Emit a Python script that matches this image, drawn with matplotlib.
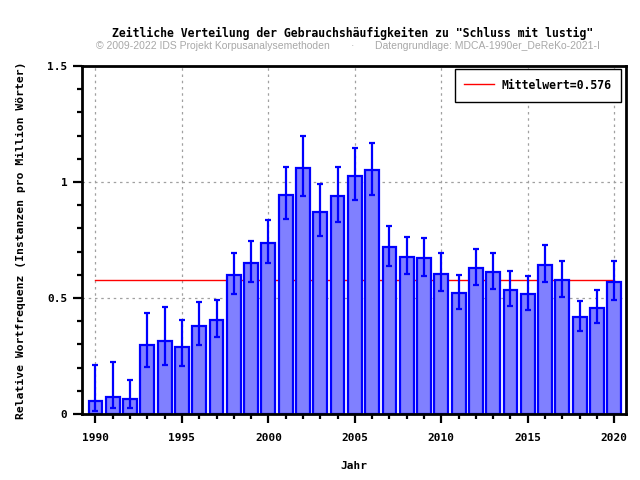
import matplotlib
matplotlib.use("Agg")
import matplotlib.pyplot as plt
from matplotlib.ticker import MultipleLocator

years = list(range(1990, 2021))
values = [0.057, 0.075, 0.063, 0.299, 0.313, 0.290, 0.381, 0.407, 0.601, 0.652,
          0.738, 0.945, 1.062, 0.872, 0.941, 1.027, 1.053, 0.721, 0.678, 0.674,
          0.605, 0.523, 0.631, 0.613, 0.536, 0.519, 0.644, 0.579, 0.420, 0.458,
          0.570]
err_upper = [0.211, 0.225, 0.148, 0.437, 0.463, 0.405, 0.484, 0.491, 0.694, 0.747,
             0.838, 1.066, 1.200, 0.993, 1.066, 1.148, 1.170, 0.812, 0.764, 0.760,
             0.695, 0.601, 0.713, 0.695, 0.618, 0.596, 0.728, 0.661, 0.488, 0.536,
             0.661]
err_lower = [0.014, 0.027, 0.027, 0.204, 0.211, 0.207, 0.297, 0.332, 0.518, 0.569,
             0.651, 0.841, 0.940, 0.767, 0.829, 0.922, 0.944, 0.639, 0.603, 0.596,
             0.530, 0.453, 0.557, 0.539, 0.467, 0.448, 0.569, 0.504, 0.359, 0.394,
             0.491]
mean_value = 0.576

title = 'Zeitliche Verteilung der Gebrauchshäufigkeiten zu "Schluss mit lustig"'
subtitle_left = "© 2009-2022 IDS Projekt Korpusanalysemethoden"
subtitle_right = "Datengrundlage: MDCA-1990er_DeReKo-2021-I"

mono = dict(family="DejaVu Sans Mono", weight="bold")

fig = plt.figure(figsize=(6.4, 4.8), dpi=100)
ax = fig.add_axes([82/640, 1-414/480, (626-82)/640, (414-66)/480])

ax.grid(True, which="major", color="#a0a0a0", linestyle=(0, (2, 3)), linewidth=0.9, zorder=0)
ax.set_axisbelow(True)

ax.plot([years[0], years[-1]], [mean_value, mean_value], color="red", linewidth=1.0,
        zorder=1, label="Mittelwert=%.3f" % mean_value)

ax.bar(years, values, width=0.8, color="#8080ff", edgecolor="#0000ff", linewidth=1.6, zorder=2)
lo = [v - l for v, l in zip(values, err_lower)]
hi = [u - v for v, u in zip(values, err_upper)]
ax.errorbar(years, values, yerr=[lo, hi], fmt="none", ecolor="#0000ff",
            elinewidth=1.6, capsize=2.4, capthick=1.6, zorder=3)

ax.set_xlim(1989.22, 2020.68)
ax.set_ylim(0, 1.5)
ax.xaxis.set_major_locator(MultipleLocator(5))
ax.xaxis.set_minor_locator(MultipleLocator(1))
ax.yaxis.set_major_locator(MultipleLocator(0.5))
ax.yaxis.set_minor_locator(MultipleLocator(0.1))
ax.set_yticks([0, 0.5, 1, 1.5])
ax.set_yticklabels(["0", "0.5", "1", "1.5"])
ax.tick_params(which="major", direction="out", length=6.5, width=1.6, pad=4)
ax.tick_params(axis="x", which="major", pad=7)
ax.tick_params(which="minor", direction="out", length=3.5, width=1.6)
for lbl in ax.get_xticklabels() + ax.get_yticklabels():
    lbl.set_fontfamily("DejaVu Sans Mono")
    lbl.set_fontweight("bold")
    lbl.set_fontsize(8)
for s in ax.spines.values():
    s.set_linewidth(2)

ax.set_xlabel("Jahr", fontsize=8, labelpad=13, **mono)
ax.set_ylabel("Relative Wortfrequenz (Instanzen pro Million Wörter)", fontsize=8.2, labelpad=15, **mono)

leg = ax.legend(loc="upper right", prop=dict(family="DejaVu Sans Mono", weight="bold", size=8.3),
                frameon=True, fancybox=False, edgecolor="black", framealpha=1,
                borderpad=0.85, handlelength=2.6, handleheight=1.2, handletextpad=0.6,
                borderaxespad=0, bbox_to_anchor=(1 - 5/544, 1 - 3/348))
leg.get_frame().set_linewidth(1.0)

fig.text(353/640, 1-33/480, title, ha="center", va="center", fontsize=8.3, **mono)
fig.text(96/640, 1-46/480, subtitle_left, ha="left", va="center", fontsize=7.5,
         family="Liberation Sans", color="#a8a8a8")
fig.text(353/640, 1-46/480, "·", ha="center", va="center", fontsize=7.5,
         family="Liberation Sans", color="#a8a8a8")
fig.text(600/640, 1-46/480, subtitle_right, ha="right", va="center", fontsize=7.5,
         family="Liberation Sans", color="#a8a8a8")

fig.savefig("out.png", dpi=100)
